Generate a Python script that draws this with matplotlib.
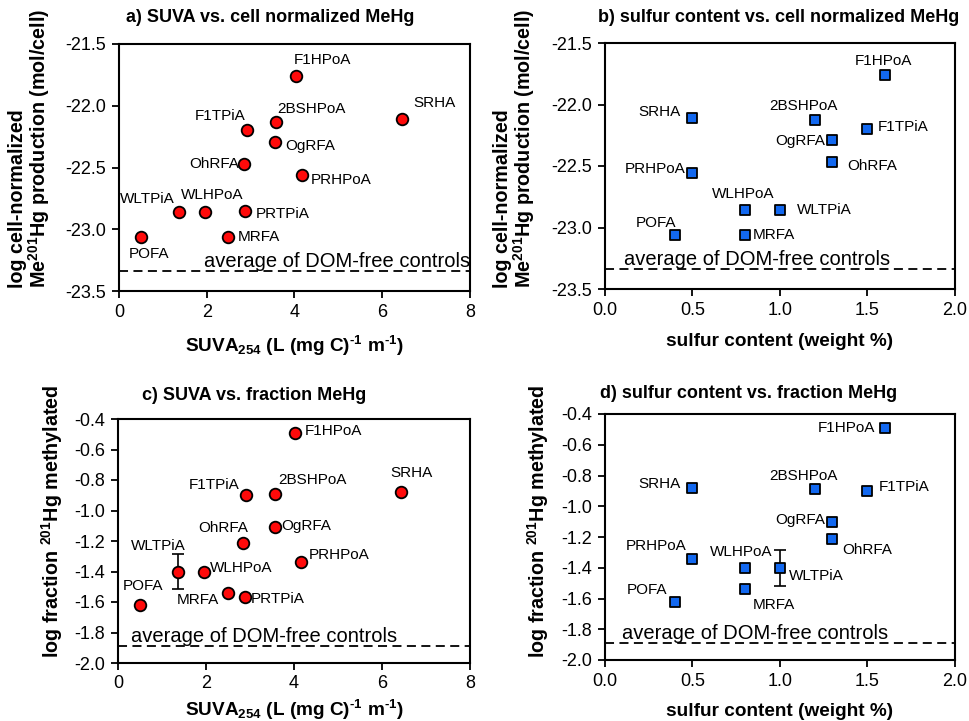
import matplotlib
matplotlib.use('Agg')
import matplotlib.pyplot as plt
import numpy as np

plt.rcParams['font.family'] = ['Liberation Sans', 'DejaVu Sans']
plt.rcParams['mathtext.fontset'] = 'custom'
plt.rcParams['mathtext.rm'] = 'Liberation Sans:bold'
plt.rcParams['mathtext.it'] = 'Liberation Sans:bold'
plt.rcParams['mathtext.bf'] = 'Liberation Sans:bold'
plt.rcParams['mathtext.default'] = 'regular'

# data
names = ['F1HPoA', 'SRHA', 'F1TPiA', '2BSHPoA', 'OgRFA', 'OhRFA', 'PRHPoA',
         'WLTPiA', 'WLHPoA', 'PRTPiA', 'POFA', 'MRFA']
suva = [4.03, 6.44, 2.92, 3.57, 3.56, 2.84, 4.17, 1.36, 1.95, 2.88, 0.51, 2.49]
sulfur = [1.6, 0.5, 1.5, 1.2, 1.3, 1.3, 0.5, 1.0, 0.8, np.nan, 0.4, 0.8]
cell_mehg = [-21.76, -22.11, -22.20, -22.13, -22.29, -22.47, -22.56,
             -22.86, -22.86, -22.85, -23.06, -23.06]
frac_mehg = [-0.49, -0.88, -0.90, -0.89, -1.105, -1.215, -1.34,
             -1.40, -1.40, -1.57, -1.62, -1.54]
frac_err = [0, 0, 0, 0, 0, 0, 0, 0.116, 0, 0, 0, 0]
ctrl_cell = -23.34
ctrl_frac = -1.89

# label offsets (pixels) and alignment per panel
offs_a = {'F1HPoA': (27, 16, 'center'), 'SRHA': (33, 16, 'center'), 'F1TPiA': (-27, 14, 'center'),
          '2BSHPoA': (36, 13, 'center'), 'OgRFA': (10, -4, 'left'), 'OhRFA': (-4, 0, 'right'),
          'PRHPoA': (9, -5, 'left'), 'WLTPiA': (-31, 13, 'center'), 'WLHPoA': (8, 17, 'center'),
          'PRTPiA': (10, -3, 'left'), 'POFA': (8, -17, 'center'), 'MRFA': (10, 0, 'left')}
offs_b = {'F1HPoA': (-2, 14, 'center'), 'SRHA': (-12, 6, 'right'), 'F1TPiA': (10, 2, 'left'),
          '2BSHPoA': (-12, 14, 'center'), 'OgRFA': (-7, -1, 'right'), 'OhRFA': (15, -4, 'left'),
          'PRHPoA': (-7, 4, 'right'), 'WLTPiA': (17, 0, 'left'), 'WLHPoA': (-2, 16, 'center'),
          'POFA': (-19, 12, 'center'), 'MRFA': (8, 0, 'left')}
offs_c = {'F1HPoA': (9, 2, 'left'), 'SRHA': (10, 19, 'center'), 'F1TPiA': (-7, 10, 'right'),
          '2BSHPoA': (37, 14, 'center'), 'OgRFA': (7, 1, 'left'), 'OhRFA': (-20, 15, 'center'),
          'PRHPoA': (7, 7, 'left'), 'WLTPiA': (-20, 25, 'center'), 'WLHPoA': (6, 4, 'left'),
          'PRTPiA': (6, -2, 'left'), 'POFA': (3, 19, 'center'), 'MRFA': (-9, -7, 'right')}
offs_d = {'F1HPoA': (-10, 0, 'right'), 'SRHA': (-12, 4, 'right'), 'F1TPiA': (11, 4, 'left'),
          '2BSHPoA': (-12, 13, 'center'), 'OgRFA': (-7, 2, 'right'), 'OhRFA': (10, -11, 'left'),
          'PRHPoA': (-6, 13, 'right'), 'WLTPiA': (9, -8, 'left'), 'WLHPoA': (-4, 16, 'center'),
          'POFA': (-8, 12, 'right'), 'MRFA': (29, -16, 'center')}

red = '#ff0a0a'
blue = '#1268f0'

fig = plt.figure(figsize=(9.7, 7.21), dpi=100)
W, H = 970., 721.


def make_ax(l, t, r, b):
    return fig.add_axes([l / W, 1 - b / H, (r - l) / W, (b - t) / H])


ax_a = make_ax(119, 44, 470, 291)
ax_b = make_ax(605, 43, 955, 289)
ax_c = make_ax(118, 419, 470, 663)
ax_d = make_ax(605, 414, 955, 660)


def panel(ax, x, y, err, offs, marker, color, size, ctrl, ctrl_x, xlim, ylim, xticks, yticks, xfmt):
    x = np.array(x)
    y = np.array(y)
    e = np.array(err)
    ok = ~np.isnan(x)
    has_err = (e > 0) & ok
    ax.errorbar(x[has_err], y[has_err], yerr=e[has_err], fmt='none', ecolor='black',
                elinewidth=1.2, capsize=4, capthick=1.2, zorder=2)
    ax.scatter(x[ok], y[ok], s=size, marker=marker, c=color, edgecolors='black',
               linewidths=1.3, zorder=3, clip_on=False)
    for i, n in enumerate(names):
        if not ok[i]:
            continue
        dx, dy, ha = offs[n]
        ax.annotate(n, (x[i], y[i]), xytext=(dx, dy), textcoords='offset pixels',
                    ha=ha, va='center', fontsize=11)
    ax.axhline(ctrl, color='black', lw=1.3, ls=(0, (5, 3)), zorder=1)
    ax.text(ctrl_x, ctrl, 'average of DOM-free controls', fontsize=14.5,
            ha='left', va='bottom')
    ax.set_xlim(xlim)
    ax.set_ylim(ylim)
    ax.set_xticks(xticks)
    ax.set_yticks(yticks)
    ax.set_xticklabels([xfmt.format(v) for v in xticks])
    ax.set_yticklabels(['{:.1f}'.format(v) for v in yticks])
    ax.tick_params(direction='out', length=5, width=1.3, labelsize=13, pad=4)
    for s in ax.spines.values():
        s.set_linewidth(1.5)


suva_ticks = [0, 2, 4, 6, 8]
sulf_ticks = [0.0, 0.5, 1.0, 1.5, 2.0]
cell_ticks = [-23.5, -23.0, -22.5, -22.0, -21.5]
frac_ticks = [-2.0, -1.8, -1.6, -1.4, -1.2, -1.0, -0.8, -0.6, -0.4]
no_err = [0] * len(names)

panel(ax_a, suva, cell_mehg, no_err, offs_a, 'o', red, 70, ctrl_cell, 1.94,
      (0, 8), (-23.5, -21.5), suva_ticks, cell_ticks, '{:.0f}')
panel(ax_b, sulfur, cell_mehg, no_err, offs_b, 's', blue, 60, ctrl_cell, 0.11,
      (0, 2), (-23.5, -21.5), sulf_ticks, cell_ticks, '{:.1f}')
panel(ax_c, suva, frac_mehg, frac_err, offs_c, 'o', red, 70, ctrl_frac, 0.3,
      (0, 8), (-2.0, -0.4), suva_ticks, frac_ticks, '{:.0f}')
panel(ax_d, sulfur, frac_mehg, frac_err, offs_d, 's', blue, 60, ctrl_frac, 0.1,
      (0, 2), (-2.0, -0.4), sulf_ticks, frac_ticks, '{:.1f}')

tkw = dict(fontsize=13, fontweight='bold', va='center', ha='left')
fig.text(126 / W, 1 - 18 / H, 'a) SUVA vs. cell normalized MeHg', **tkw)
fig.text(598 / W, 1 - 18 / H, 'b) sulfur content vs. cell normalized MeHg', **tkw)
fig.text(142 / W, 1 - 395 / H, 'c) SUVA vs. fraction MeHg', **tkw)
fig.text(600 / W, 1 - 393 / H, 'd) sulfur content vs. fraction MeHg', **tkw)

lkw = dict(fontsize=13.7, fontweight='bold', ha='center', va='center')
suva_lab = r'SUVA$_{254}$ (L (mg C)$^{\text{-1}}$ m$^{\text{-1}}$)'
sulf_lab = 'sulfur content (weight %)'
fig.text(294 / W, 1 - 346 / H, suva_lab, **lkw)
fig.text(780 / W, 1 - 341 / H, sulf_lab, **lkw)
fig.text(294 / W, 1 - 710 / H, suva_lab, **lkw)
fig.text(780 / W, 1 - 711 / H, sulf_lab, **lkw)

cell_lab = 'log cell-normalized\nMe$^{201}$Hg production (mol/cell)'
frac_lab = 'log fraction $^{201}$Hg methylated'
ykw = dict(fontsize=14.2, fontweight='bold', rotation=90, ha='center', va='bottom',
           multialignment='left', linespacing=1.0)
fig.text(30 / W, 1 - 288 / H, cell_lab, **ykw)
fig.text(515 / W, 1 - 288 / H, cell_lab, **ykw)
fig.text(52 / W, 1 - 658 / H, frac_lab, **ykw)
fig.text(538 / W, 1 - 658 / H, frac_lab, **ykw)

fig.savefig('out.png', dpi=100)
